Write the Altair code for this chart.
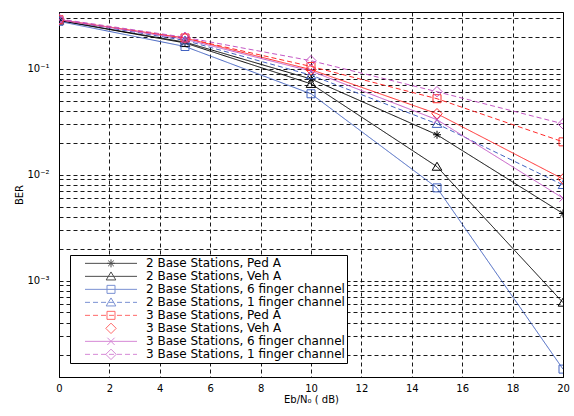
import altair as alt
import pandas as pd

# ---------------- data ----------------
snr_db = [0, 5, 10, 15, 20]

series_names = [
    "2 Base Stations, Ped A",
    "2 Base Stations, Veh A",
    "2 Base Stations, 6 finger channel",
    "2 Base Stations, 1 finger channel",
    "3 Base Stations, Ped A",
    "3 Base Stations, Veh A",
    "3 Base Stations, 6 finger channel",
    "3 Base Stations, 1 finger channel",
]

ber_2bs_ped_a = [0.285, 0.178, 0.080, 0.0238, 0.0043]
ber_2bs_veh_a = [0.285, 0.175, 0.072, 0.0119, 0.00062]
ber_2bs_6finger = [0.280, 0.162, 0.058, 0.0075, 0.000146]
ber_2bs_1finger = [0.290, 0.185, 0.087, 0.0302, 0.0080]
ber_3bs_ped_a = [0.290, 0.195, 0.105, 0.0521, 0.0204]
ber_3bs_veh_a = [0.290, 0.195, 0.098, 0.0376, 0.0091]
ber_3bs_6finger = [0.290, 0.190, 0.095, 0.0330, 0.0060]
ber_3bs_1finger = [0.295, 0.198, 0.119, 0.0607, 0.0302]

all_series = [ber_2bs_ped_a, ber_2bs_veh_a, ber_2bs_6finger, ber_2bs_1finger,
              ber_3bs_ped_a, ber_3bs_veh_a, ber_3bs_6finger, ber_3bs_1finger]

x_ticks = list(range(0, 21, 2))
y_ticks = ([k * 1e-4 for k in range(2, 10)] + [k * 1e-3 for k in range(1, 10)]
           + [k * 1e-2 for k in range(1, 10)] + [0.1, 0.2, 0.3])

# ---------------- styles ----------------
BLACK, BLUE, RED, PINK = "#000000", "#4262c0", "#ff2a2a", "#c457c4"
colors = [BLACK, BLACK, BLUE, BLUE, RED, RED, PINK, PINK]
dashes = [[1, 0], [1, 0], [1, 0], [5, 3], [5, 3], [1, 0], [1, 0], [5, 3]]

STAR = "M-1,0L1,0M0,-1L0,1M-0.7,-0.7L0.7,0.7M-0.7,0.7L0.7,-0.7"
TRI = "M0,-1.1L1.2,0.9L-1.2,0.9Z"
SQ = "M-1,-1L1,-1L1,1L-1,1Z"
DIA = "M0,-1.3L1.3,0L0,1.3L-1.3,0Z"
XX = "M-0.9,-0.9L0.9,0.9M-0.9,0.9L0.9,-0.9"
markers = [STAR, TRI, SQ, TRI, SQ, DIA, XX, DIA]

SOLID_SEG = "M-6.5,0L6.5,0"
def dashed_seg():
    parts, x = [], -6.5
    while x < 6.5:
        parts.append(f"M{x:.2f},0L{min(x + 1.25, 6.5):.2f},0")
        x += 2.0
    return "".join(parts)
DASH_SEG = dashed_seg()
legend_lines = [SOLID_SEG, SOLID_SEG, SOLID_SEG, DASH_SEG, DASH_SEG, "", SOLID_SEG, DASH_SEG]
legend_symbols = [l + m for l, m in zip(legend_lines, markers)]

rows = []
for name, vals in zip(series_names, all_series):
    for x, v in zip(snr_db, vals):
        rows.append({"snr": x, "ber": v, "series": name})
df = pd.DataFrame(rows)

FONT = "DejaVu Sans"

x_enc = alt.X("snr:Q", scale=alt.Scale(domain=[0, 20], nice=False),
              axis=alt.Axis(values=x_ticks, title="Eb/N₀ ( dB)", format="d",
                            grid=True, gridDash=[4, 3], gridColor="black", gridOpacity=0.9,
                            ticks=False, labelFont=FONT, labelFontSize=10, labelPadding=6,
                            labelColor="black", titleFont=FONT, titleFontSize=10,
                            titleFontWeight="normal", titlePadding=1, titleColor="black",
                            domainColor="black", labelFlush=False))
y_enc = alt.Y("ber:Q",
              scale=alt.Scale(type="log", domain=[1.23e-4, 0.343], nice=False),
              axis=alt.Axis(values=y_ticks, title="BER",
                            labelExpr="abs(datum.value-0.1)<1e-9 ? '10⁻¹' : abs(datum.value-0.01)<1e-10 ? '10⁻²' : abs(datum.value-0.001)<1e-11 ? '10⁻³' : ''",
                            grid=True, gridDash=[4, 3], gridColor="black", gridOpacity=0.9,
                            ticks=False, labelFont=FONT, labelFontSize=10, labelPadding=10,
                            labelColor="black", titleFont=FONT, titleFontSize=10,
                            titleFontWeight="normal", titlePadding=2, titleColor="black",
                            domainColor="black"))

color_scale = alt.Scale(domain=series_names, range=colors)

lines = alt.Chart(df).mark_line(strokeWidth=1, clip=True).encode(
    x=x_enc, y=y_enc,
    color=alt.Color("series:N", scale=color_scale, legend=None),
    strokeDash=alt.StrokeDash("series:N", scale=alt.Scale(domain=series_names, range=dashes), legend=None),
)

points = alt.Chart(df).mark_point(filled=False, size=64, strokeWidth=1, opacity=1, clip=True).encode(
    x=x_enc, y=y_enc,
    color=alt.Color("series:N", scale=color_scale, legend=None),
    shape=alt.Shape("series:N", scale=alt.Scale(domain=series_names, range=markers), legend=None),
)

leg = alt.Legend(orient="none", legendX=11, legendY=243, title=None,
                 labelFont=FONT, labelFontSize=12, labelColor="black",
                 strokeColor="black", fillColor="white", padding=2, cornerRadius=0,
                 symbolOffset=33, labelOffset=29, rowPadding=0, clipHeight=12.7,
                 symbolSize=64, symbolStrokeWidth=1, labelLimit=400,
                 labelExpr="datum.label + '\u00a0\u00a0\u00a0\u00a0\u00a0\u00a0\u00a0\u00a0\u00a0\u00a0\u00a0'")

legend_layer = alt.Chart(df).mark_point(filled=False, size=64, strokeWidth=1).encode(
    x=x_enc, y=y_enc,
    color=alt.Color("series:N", scale=alt.Scale(domain=series_names, range=colors), legend=leg),
    shape=alt.Shape("series:N", scale=alt.Scale(domain=series_names, range=legend_symbols), legend=leg),
).transform_filter("datum.snr < 0")

chart = alt.layer(lines, points, legend_layer).resolve_scale(
    color="independent", shape="independent"
).properties(
    width=504, height=365,
    autosize=alt.AutoSizeParams(type="none"),
    padding={"left": 59, "top": 12, "right": 11, "bottom": 39},
    background="white",
).configure_view(stroke="black", strokeWidth=1)

chart.save("out.html", embed_options={"renderer": "svg", "actions": False})
